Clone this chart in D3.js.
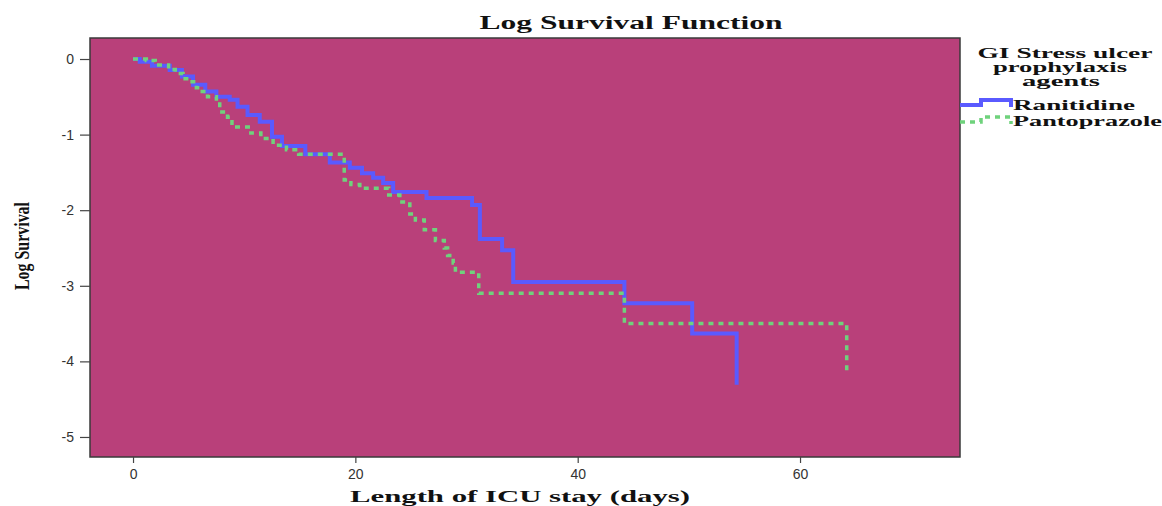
<!DOCTYPE html>
<html>
<head>
<meta charset="utf-8">
<script src="https://cdn.jsdelivr.net/npm/d3@7"></script>
<style>
body { margin: 0; background: #fff; }
</style>
</head>
<body>
<script>
// Log survival step data (days, log survival)
var ranTime = [0, 0.6, 1.7, 3.3, 4.4, 5.4, 6.5, 7.5, 8.7, 9.4, 10.3, 11.4, 12.5, 13.4, 15.5, 17.7, 19.5, 20.6, 21.6, 22.5, 23.4, 26.4, 30.5, 31.2, 33.2, 34.2, 44.2, 50.3, 54.3];
var ranLog  = [0, -0.035, -0.09, -0.145, -0.23, -0.34, -0.43, -0.50, -0.54, -0.63, -0.74, -0.83, -1.03, -1.15, -1.26, -1.37, -1.44, -1.51, -1.57, -1.64, -1.76, -1.84, -1.93, -2.38, -2.53, -2.95, -3.23, -3.63, -4.31];

var pantTime = [0, 1.2, 2.0, 3.2, 3.8, 4.5, 5.0, 5.7, 6.0, 6.7, 7.5, 7.8, 8.5, 8.9, 10.6, 11.5, 12.6, 13.8, 14.9, 19.0, 19.6, 20.4, 23.0, 24.0, 24.9, 25.4, 26.2, 27.2, 28.0, 28.3, 28.8, 29.0, 31.1, 44.2, 64.2];
var pantLog  = [0, -0.02, -0.08, -0.14, -0.19, -0.26, -0.30, -0.38, -0.43, -0.50, -0.57, -0.70, -0.77, -0.90, -0.98, -1.05, -1.14, -1.20, -1.26, -1.60, -1.66, -1.71, -1.80, -1.89, -2.05, -2.13, -2.26, -2.40, -2.50, -2.60, -2.70, -2.82, -3.10, -3.50, -4.15];

var xTicks = [0, 20, 40, 60];
var yTicks = [0, -1, -2, -3, -4, -5];
var groups = ["Ranitidine", "Pantoprazole"];
var colors = ["#5a5aff", "#6fd27c"];

var svg = d3.select("body").append("svg")
	.attr("width", 1162)
	.attr("height", 506);

// plot box edges (note: "top" is taken by window.top)
var pLeft = 90, pRight = 960, pTop = 38, pBottom = 457;

var x = d3.scaleLinear().domain([-3.87, 74.39]).range([pLeft, pRight]);
var y = d3.scaleLinear().domain([0.278, -5.265]).range([pTop, pBottom]);

// plot background
svg.append("rect")
	.attr("x", pLeft).attr("y", pTop)
	.attr("width", pRight - pLeft).attr("height", pBottom - pTop)
	.style("fill", "#b9407a")
	.style("stroke", "#3a3a3a")
	.style("stroke-width", 1.5);

// axes
var xAxis = svg.append("g")
	.attr("transform", "translate(0," + pBottom + ")")
	.call(d3.axisBottom(x).tickValues(xTicks).tickSize(6).tickPadding(6).tickFormat(function(d){ return String(d); }));
var yAxis = svg.append("g")
	.attr("transform", "translate(" + pLeft + ",0)")
	.call(d3.axisLeft(y).tickValues(yTicks).tickSize(10).tickPadding(6).tickFormat(function(d){ return String(d); }));

[xAxis, yAxis].forEach(function(a) {
	a.select(".domain").remove();
	a.selectAll(".tick line").style("stroke", "#444").style("stroke-width", 1.2);
	a.selectAll(".tick text")
		.style("font-family", "'Liberation Sans', Arial, sans-serif")
		.style("font-size", "14px")
		.style("fill", "#333");
});

// step lines
var line = d3.line()
	.x(function(d) { return x(d[0]); })
	.y(function(d) { return y(d[1]); })
	.curve(d3.curveStepAfter);

var ranData = ranTime.map(function(t, i) { return [t, ranLog[i]]; });
var pantData = pantTime.map(function(t, i) { return [t, pantLog[i]]; });

svg.append("path")
	.datum(ranData)
	.attr("d", line)
	.style("fill", "none")
	.style("stroke", colors[0])
	.style("stroke-width", 4);

svg.append("path")
	.datum(pantData)
	.attr("d", line)
	.style("fill", "none")
	.style("stroke", colors[1])
	.style("stroke-width", 3.5)
	.style("stroke-dasharray", "5,5");

// titles
function label(txt, tx, ty, size, len, anchor) {
	return svg.append("text")
		.attr("x", tx).attr("y", ty)
		.attr("text-anchor", anchor || "middle")
		.attr("textLength", len)
		.attr("lengthAdjust", "spacingAndGlyphs")
		.style("font-family", "'Liberation Serif', 'Times New Roman', serif")
		.style("font-weight", "bold")
		.style("font-size", size + "px")
		.style("fill", "#111")
		.text(txt);
}

label("Log Survival Function", 631, 29, 18, 303);
label("Length of ICU stay (days)", 520, 502, 17, 340);
label("Log Survival", 0, 0, 22, 88)
	.attr("transform", "translate(29,246) rotate(-90)");

// legend
label("GI Stress ulcer", 1065, 58, 15, 175);
label("prophylaxis", 1060, 72, 15, 134);
label("agents", 1061, 86, 15, 78);

var legSym = [[960, 0], [981, 0], [981, -5], [1011, -5], [1011, 2]];
groups.forEach(function(g, i) {
	var oy = 105 + i * 17;
	svg.append("path")
		.attr("d", d3.line()(legSym.map(function(p) { return [p[0], p[1] + oy]; })))
		.style("fill", "none")
		.style("stroke", colors[i])
		.style("stroke-width", i === 0 ? 4 : 3.5)
		.style("stroke-dasharray", i === 0 ? null : "5,5");
	label(g, 1013, oy + 5 + (i === 0 ? 0 : -1), 15, i === 0 ? 122 : 149, "start");
});
</script>
</body>
</html>
